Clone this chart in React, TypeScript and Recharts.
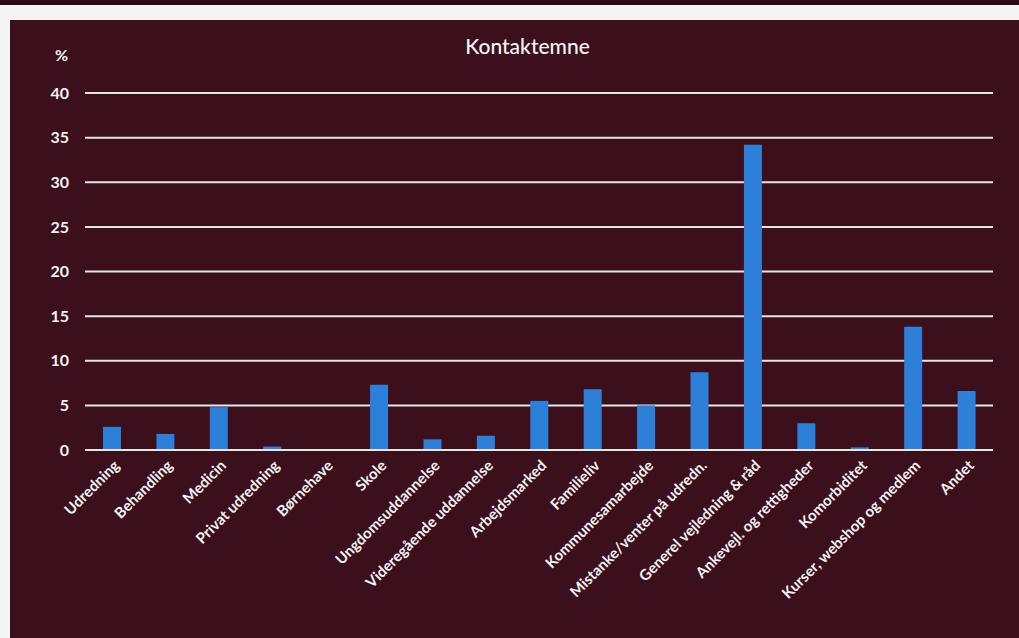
import React from "react";
import { BarChart, Bar, XAxis, YAxis, CartesianGrid } from "recharts";

const categories = [
  "Udredning",
  "Behandling",
  "Medicin",
  "Privat udredning",
  "Børnehave",
  "Skole",
  "Ungdomsuddannelse",
  "Videregående uddannelse",
  "Arbejdsmarked",
  "Familieliv",
  "Kommunesamarbejde",
  "Mistanke/venter på udredn.",
  "Generel vejledning & råd",
  "Ankevejl. og rettigheder",
  "Komorbiditet",
  "Kurser, webshop og medlem",
  "Andet",
];

const values = [2.6, 1.8, 4.8, 0.4, 0, 7.3, 1.2, 1.6, 5.5, 6.8, 5.0, 8.7, 34.2, 3.0, 0.3, 13.8, 6.6];

const yTicks = [0, 5, 10, 15, 20, 25, 30, 35, 40];

const data = categories.map((name, i) => ({ name, value: values[i] }));

const FONT = "Lato, 'Open Sans', sans-serif";

const XTick = (props: any) => {
  const { x, y, payload } = props;
  return (
    <g transform={`translate(${x + 5},${y + 5})`}>
      <text
        textAnchor="end"
        transform="rotate(-45)"
        fill="#f2f2f2"
        fontSize={15}
        fontWeight={700}
        fontFamily={FONT}
        dy={5}
      >
        {payload.value}
      </text>
    </g>
  );
};

export default function App() {
  return (
    <div
      style={{
        position: "absolute",
        left: 0,
        top: 0,
        width: 1019,
        height: 638,
        background: "#f4f4f4",
        overflow: "hidden",
      }}
    >
      <div
        style={{
          position: "absolute",
          left: 0,
          top: 0,
          width: 1019,
          height: 5,
          background: "#2a0a14",
        }}
      />
      <div
        style={{
          position: "absolute",
          left: 10,
          top: 20,
          width: 1009,
          height: 618,
          background: "#3c0f1d",
        }}
      >
        <div
          style={{
            position: "absolute",
            left: 0,
            width: 1009,
            top: 13,
            textAlign: "center",
            color: "#f4f4f4",
            fontFamily: FONT,
            fontSize: 21,
            fontWeight: 500,
            paddingLeft: 26,
            boxSizing: "border-box",
          }}
        >
          Kontaktemne
        </div>
        <div
          style={{
            position: "absolute",
            left: 45,
            top: 25,
            color: "#f4f4f4",
            fontFamily: FONT,
            fontSize: 16,
            fontWeight: 700,
          }}
        >
          %
        </div>
        <BarChart
          width={1009}
          height={618}
          data={data}
          margin={{ top: 73, right: 26, left: 30, bottom: 38 }}
        >
          <CartesianGrid
            horizontal
            vertical={false}
            stroke="#e6e6e6"
            strokeWidth={2}
          />
          <XAxis
            dataKey="name"
            interval={0}
            height={150}
            tick={<XTick />}
            tickLine={false}
            axisLine={{ stroke: "#e6e6e6", strokeWidth: 2 }}
          />
          <YAxis
            width={45}
            domain={[0, 40]}
            ticks={yTicks}
            tickLine={false}
            axisLine={false}
            tickMargin={10}
            tick={{ fill: "#f2f2f2", fontSize: 16, fontWeight: 700, fontFamily: FONT }}
          />
          <Bar dataKey="value" fill="#2e7fd8" barSize={18} isAnimationActive={false} />
        </BarChart>
      </div>
    </div>
  );
}
